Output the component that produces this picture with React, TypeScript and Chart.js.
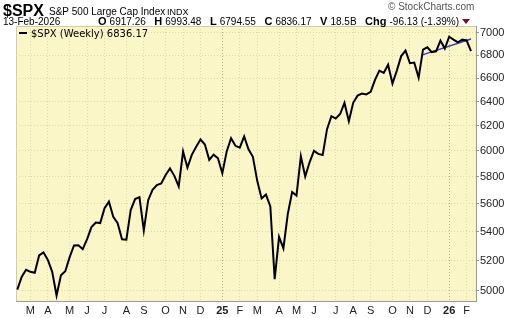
import { useEffect, useRef } from 'react';
import { Chart, registerables } from 'chart.js';

Chart.register(...registerables);

// Weekly closes of $SPX, week ending 16-Feb-2024 ... 13-Feb-2026
const weeklyClose = [
  5005.57, 5088.8, 5137.08, 5123.69, 5117.09, 5234.18, 5254.35, 5204.34, 5123.41, 4967.23,
  5099.96, 5127.79, 5222.68, 5303.27, 5304.72, 5277.51, 5346.99, 5431.6, 5464.62, 5460.48,
  5567.19, 5615.35, 5505.0, 5459.1, 5346.56, 5344.16, 5554.25, 5634.61, 5648.4, 5408.42,
  5626.02, 5702.55, 5738.17, 5751.07, 5815.03, 5864.67, 5808.12, 5728.8, 5995.54, 5870.62,
  5969.34, 6032.38, 6090.27, 6051.09, 5930.85, 5970.84, 5942.47, 5827.04, 5996.66, 6101.24,
  6040.53, 6025.99, 6114.63, 6013.13, 5954.5, 5770.2, 5638.94, 5667.56, 5580.94, 5074.08,
  5363.36, 5282.7, 5525.21, 5686.67, 5659.91, 5958.38, 5802.82, 5911.69, 6000.36, 5976.97,
  5967.84, 6173.07, 6279.35, 6259.75, 6296.79, 6388.64, 6238.01, 6389.45, 6449.8, 6466.91,
  6460.26, 6481.5, 6584.29, 6664.36, 6643.7, 6715.79, 6552.51, 6664.01, 6791.69, 6840.2,
  6728.8, 6734.11, 6602.99, 6849.09, 6870.4, 6827.41, 6834.5, 6929.94, 6858.47, 6966.28,
  6940.01, 6915.61, 6939.03, 6932.3, 6836.17,
];

// Blue trend line (week index, value)
const trendWeek = [92.7, 104];
const trendValue = [6800, 6945];

const yTicks = [5000, 5200, 5400, 5600, 5800, 6000, 6200, 6400, 6600, 6800, 7000];

const monthTickWeek = [3, 7, 12, 16, 20, 25, 29, 34, 38, 42, 47, 51, 55, 60, 64, 68, 73, 77, 81, 86, 90, 94, 99, 103];
const monthTickLabel = ['M', 'A', 'M', 'J', 'J', 'A', 'S', 'O', 'N', 'D', '25', 'F', 'M', 'A', 'M', 'J', 'J', 'A', 'S', 'O', 'N', 'D', '26', 'F'];
const yearLabels = ['25', '26'];

const headerStats = [
  ['O', '6917.26'],
  ['H', '6993.48'],
  ['L', '6794.55'],
  ['C', '6836.17'],
  ['V', '18.5B'],
  ['Chg', '-96.13 (-1.39%)'],
];

const FONT = '"Liberation Sans", Arial, sans-serif';

const isYearTick = (v: number) => {
  const i = monthTickWeek.indexOf(v);
  return i >= 0 && yearLabels.includes(monthTickLabel[i]);
};

const bgPlugin = {
  id: 'bgPlugin',
  beforeDraw(chart: any) {
    const { ctx, chartArea: a } = chart;
    ctx.save();
    ctx.fillStyle = '#faf6c8';
    ctx.fillRect(a.left, a.top, a.right - a.left, a.bottom - a.top);
    ctx.strokeStyle = '#cfcca8';
    ctx.lineWidth = 1;
    ctx.beginPath();
    ctx.moveTo(a.left + 0.5, a.bottom);
    ctx.lineTo(a.left + 0.5, a.top + 0.5);
    ctx.lineTo(a.right, a.top + 0.5);
    ctx.stroke();
    ctx.restore();
  },
  afterDraw(chart: any) {
    const { ctx, chartArea: a } = chart;
    ctx.save();
    ctx.textBaseline = 'alphabetic';
    // Row 1
    ctx.fillStyle = '#000';
    ctx.font = `bold 16px ${FONT}`;
    ctx.fillText('$SPX', 3, 16);
    ctx.font = `10px ${FONT}`;
    ctx.fillText('S&P 500 Large Cap Index', 49, 15);
    ctx.font = `9px ${FONT}`;
    ctx.fillText('INDX', 167, 15);
    ctx.fillStyle = '#555';
    ctx.font = `10px ${FONT}`;
    ctx.fillText('\u00a9 StockCharts.com', 388, 10);
    // Row 2
    ctx.fillStyle = '#000';
    ctx.font = `10px ${FONT}`;
    ctx.fillText('13-Feb-2026', 3, 25);
    const boldF = `bold 11px ${FONT}`;
    const normF = `10px ${FONT}`;
    let total = 0;
    const widths = headerStats.map(([k, v]) => {
      ctx.font = boldF;
      const wk = ctx.measureText(k + ' ').width;
      ctx.font = normF;
      const wv = ctx.measureText(v).width;
      total += wk + wv;
      return [wk, wv];
    });
    const startX = 98;
    const endX = 459;
    const gap = (endX - startX - total) / (headerStats.length - 1);
    let x = startX;
    headerStats.forEach(([k, v], i) => {
      ctx.font = boldF;
      ctx.fillText(k, x, 25);
      ctx.font = normF;
      ctx.fillText(v, x + widths[i][0], 25);
      x += widths[i][0] + widths[i][1] + gap;
    });
    // triangle
    ctx.fillStyle = '#7a0f2a';
    ctx.beginPath();
    ctx.moveTo(462, 19);
    ctx.lineTo(470, 19);
    ctx.lineTo(466, 24);
    ctx.closePath();
    ctx.fill();
    // Legend
    ctx.strokeStyle = '#000';
    ctx.lineWidth = 2;
    ctx.beginPath();
    ctx.moveTo(a.left + 3, a.top + 7);
    ctx.lineTo(a.left + 11, a.top + 7);
    ctx.stroke();
    ctx.fillStyle = '#000';
    ctx.font = `10px "DejaVu Sans", sans-serif`;
    ctx.fillText('$SPX (Weekly) 6836.17', a.left + 15, a.top + 11);
    ctx.restore();
  },
};

export default function App() {
  const ref = useRef<HTMLCanvasElement | null>(null);
  useEffect(() => {
    if (!ref.current) return;
    const chart = new Chart(ref.current, {
      type: 'line',
      data: {
        datasets: [
          {
            data: weeklyClose.map((v, i) => ({ x: i, y: v })),
            borderColor: '#000',
            borderWidth: 2,
            pointRadius: 0,
            tension: 0,
          },
          {
            data: trendWeek.map((w, i) => ({ x: w, y: trendValue[i] })),
            borderColor: '#3b3bc4',
            borderWidth: 1.5,
            pointRadius: 0,
            tension: 0,
          },
        ],
      },
      options: {
        responsive: false,
        animation: false,
        events: [],
        layout: { padding: { left: 16, top: 26, right: 0, bottom: 0 } },
        plugins: { legend: { display: false }, tooltip: { enabled: false } },
        scales: {
          x: {
            type: 'linear',
            min: -0.3,
            max: 105.15,
            afterFit: (s: any) => {
              s.height = 17;
            },
            afterBuildTicks: (s: any) => {
              s.ticks = monthTickWeek.map((v) => ({ value: v }));
            },
            grid: {
              color: (c: any) => (c.tick && isYearTick(c.tick.value) ? '#b4b08a' : '#dcd8a8'),
              lineWidth: 1,
              drawTicks: false,
            },
            border: { display: true, color: '#999', dash: [1, 2] },
            ticks: {
              autoSkip: false,
              maxRotation: 0,
              padding: 3,
              color: '#222',
              font: (c: any) => ({
                family: FONT,
                size: 11,
                weight: c.tick && isYearTick(c.tick.value) ? 'bold' : 'normal',
              }),
              callback: (_v: any, i: number) => monthTickLabel[i],
            },
          },
          y: {
            type: 'logarithmic',
            position: 'right',
            min: 4932,
            max: 7064,
            afterFit: (s: any) => {
              s.width = 44;
            },
            afterBuildTicks: (s: any) => {
              s.ticks = yTicks.map((v) => ({ value: v }));
            },
            grid: {
              color: '#dcd8a8',
              lineWidth: 1,
              drawTicks: true,
              tickLength: 3,
              tickColor: '#999',
            },
            border: { display: true, color: '#999', dash: [1, 2] },
            ticks: {
              padding: 1,
              color: '#222',
              font: { family: FONT, size: 11 },
              callback: (v: any) => String(v),
            },
          },
        },
      },
      plugins: [bgPlugin],
    });
    return () => chart.destroy();
  }, []);
  return (
    <div style={{ position: 'fixed', left: 0, top: 0, width: 520, height: 318 }}>
      <canvas ref={ref} width={520} height={318} />
    </div>
  );
}
